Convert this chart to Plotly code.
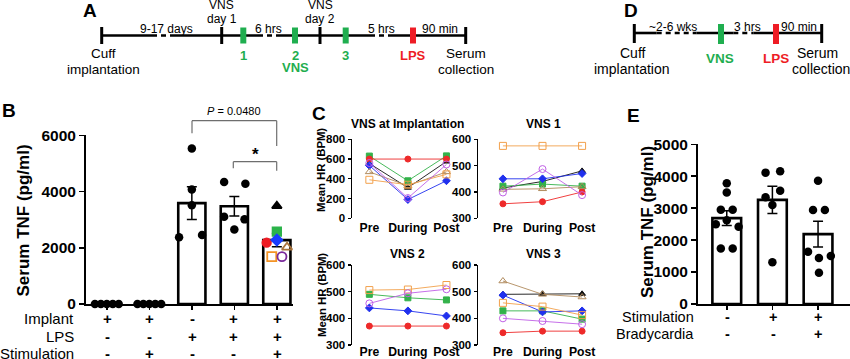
import numpy as np
import plotly.graph_objects as go

W, H = 850, 359
FONT = "Liberation Sans"


def X(p):
    return p / W


def Y(p):
    return 1 - p / H

# ---------------- Panel B data ----------------
b_implant = ["+", "+", "-", "+", "+"]
b_lps = ["-", "-", "+", "+", "+"]
b_stim = ["-", "+", "-", "-", "+"]
b_g1 = [0, 0, 0, 0, 0]
b_g2 = [0, 0, 0, 0, 0]
b_g3 = [5530, 4070, 3510, 2370, 2450]
b_g4 = [4340, 4280, 3100, 3010, 2650]
b_g5_names = ["black", "green", "red", "blue", "brown", "orange", "purple"]
b_g5 = [3485, 2572, 2180, 2276, 2017, 1683, 1683]
# horizontal scatter offsets (category units)
b_jit1 = [-0.28, -0.14, 0.0, 0.14, 0.28]
b_jit3 = [0.0, 0.0, 0.0, -0.3, 0.24]
b_jit4 = [-0.24, 0.26, -0.24, 0.24, 0.0]
b_jit5 = [0.0, 0.0, -0.24, 0.0, 0.24, -0.12, 0.12]

# ---------------- Panel C data ----------------
c_cats = ["Pre", "During", "Post"]
c_series = ["black", "green", "red", "blue", "brown", "orange", "purple"]
c_imp = {
    "black": [555, 310, 575], "green": [630, 380, 632], "red": [600, 600, 600],
    "blue": [535, 190, 380], "brown": [470, 330, 470], "orange": [390, 340, 445],
    "purple": [560, 205, 545],
}
c_vns1 = {
    "black": [415, 440, 480], "green": [422, 430, 422], "red": [355, 363, 400],
    "blue": [450, 450, 470], "brown": [410, 412, 420], "orange": [575, 575, 575],
    "purple": [398, 487, 388],
}
c_vns2 = {
    "green": [490, 477, 469], "red": [371, 371, 371],
    "blue": [439, 428, 409], "orange": [506, 508, 525], "purple": [456, 494, 509],
}
c_vns3 = {
    "black": [490, 492, 492], "green": [428, 428, 397], "red": [346, 352, 352],
    "blue": [487, 424, 428], "brown": [540, 490, 480], "orange": [458, 444, 412],
    "purple": [400, 390, 378],
}

# ---------------- Panel E data ----------------
e_stim = ["-", "+", "+"]
e_brady = ["-", "-", "+"]
e_g1 = [3780, 3490, 2950, 2950, 2500, 2620, 2420, 1740, 1740]
e_g2 = [4113, 4155, 3340, 3549, 3100, 1305]
e_g3 = [3862, 2944, 2944, 1637, 1503, 1440, 980]
e_jit1 = [0.0, 0.0, -0.13, 0.13, -0.24, 0.0, 0.26, -0.13, 0.13]
e_jit2 = [-0.15, 0.17, -0.15, 0.17, 0.0, 0.0]
e_jit3 = [0.0, -0.11, 0.15, -0.22, 0.28, 0.02, 0.02]

# ---------------- styles ----------------
colB = {"black": "#000000", "green": "#2bb34a", "red": "#ee1c25", "blue": "#1a3cff",
        "brown": "#a8733c", "orange": "#f39324", "purple": "#7a2a9c"}
colC = {"black": "#111111", "green": "#33b24a", "red": "#ee2a2a", "blue": "#2030ee",
        "brown": "#b08a5c", "orange": "#f2a04c", "purple": "#c060e6"}
symB = {"black": "triangle-up", "green": "square", "red": "circle", "blue": "diamond",
        "brown": "triangle-up-open", "orange": "square-open", "purple": "circle-open"}
GREEN = "#1fae4f"
RED = "#ee1c25"

fig = go.Figure()


def sem(v):
    v = np.asarray(v, dtype=float)
    if np.all(v == 0):
        return 0.0
    return float(np.std(v, ddof=1) / np.sqrt(len(v)))

# ---------------- Panel B ----------------
b_all = [b_g1, b_g2, b_g3, b_g4, b_g5]
fig.add_trace(go.Bar(
    x=list(range(5)), y=[float(np.mean(v)) for v in b_all], width=0.64,
    marker=dict(color="white", line=dict(color="black", width=2.6)),
    error_y=dict(type="data", array=[sem(v) for v in b_all], color="black",
                 thickness=1.5, width=5),
    xaxis="x", yaxis="y", hoverinfo="skip"))
for gi, (vals, jit) in enumerate([(b_g1, b_jit1), (b_g2, b_jit1), (b_g3, b_jit3), (b_g4, b_jit4)]):
    fig.add_trace(go.Scatter(
        x=[gi + j for j in jit], y=vals, mode="markers", cliponaxis=False,
        marker=dict(color="black", size=8.5), xaxis="x", yaxis="y", hoverinfo="skip"))
for name, v, j in zip(b_g5_names, b_g5, b_jit5):
    open_ = symB[name].endswith("open")
    fig.add_trace(go.Scatter(
        x=[4 + j], y=[v], mode="markers", cliponaxis=False,
        marker=dict(color=colB[name], size=8.5 if not open_ else 9, symbol=symB[name],
                    line=dict(width=1.8, color=colB[name])),
        xaxis="x", yaxis="y", hoverinfo="skip"))

# ---------------- Panel C ----------------
for ax, data in zip(["2", "3", "4", "5"], [c_imp, c_vns1, c_vns2, c_vns3]):
    for name in c_series:
        if name not in data:
            continue
        open_ = symB[name].endswith("open")
        fig.add_trace(go.Scatter(
            x=[0, 1, 2], y=data[name], mode="lines+markers", cliponaxis=False,
            line=dict(color=colC[name], width=0.9),
            marker=dict(color=colC[name], size=6 if not open_ else 7, symbol=symB[name],
                        line=dict(width=1, color=colC[name])),
            xaxis="x" + ax, yaxis="y" + ax, hoverinfo="skip"))

# ---------------- Panel E ----------------
e_all = [e_g1, e_g2, e_g3]
fig.add_trace(go.Bar(
    x=[0, 1, 2], y=[float(np.mean(v)) for v in e_all], width=0.63,
    marker=dict(color="white", line=dict(color="black", width=2.6)),
    error_y=dict(type="data", array=[sem(v) for v in e_all], color="black",
                 thickness=1.5, width=5),
    xaxis="x6", yaxis="y6", hoverinfo="skip"))
for gi, (vals, jit) in enumerate([(e_g1, e_jit1), (e_g2, e_jit2), (e_g3, e_jit3)]):
    fig.add_trace(go.Scatter(
        x=[gi + j for j in jit], y=vals, mode="markers", cliponaxis=False,
        marker=dict(color="black", size=8.5), xaxis="x6", yaxis="y6", hoverinfo="skip"))

# ---------------- axes ----------------
bold15 = dict(family=FONT, size=15.5, color="black", weight="bold")
boldC = dict(family=FONT, size=12.2, color="black", weight="bold")


def xdom(a, b):
    return [X(a), X(b)]


def ydom(top, bottom):
    return [Y(bottom), Y(top)]


common_x = dict(showgrid=False, zeroline=False, fixedrange=True, automargin=False)
common_y = dict(showgrid=False, zeroline=False, fixedrange=True, showline=True, automargin=False,
                linecolor="black", ticks="outside", tickcolor="black")

layout = dict(
    xaxis=dict(domain=xdom(86, 293), range=[-0.49, 4.38], anchor="y", showline=True,
               linecolor="black", linewidth=2, ticks="outside", ticklen=4, tickwidth=1.5,
               tickcolor="black", tickvals=[0, 1, 2, 3, 4], showticklabels=False, **common_x),
    yaxis=dict(domain=ydom(135.3, 304), range=[0, 6000], anchor="x", linewidth=2,
               tickvals=[0, 2000, 4000, 6000], ticklen=5, tickwidth=1.5, tickfont=bold15,
               **common_y),
    xaxis6=dict(domain=xdom(698, 850), range=[-0.63, 2.7], anchor="y6", showline=True,
                linecolor="black", linewidth=2, ticks="outside", ticklen=4, tickwidth=1.5,
                tickcolor="black", tickvals=[0, 1, 2], showticklabels=False, **common_x),
    yaxis6=dict(domain=ydom(144.3, 304), range=[0, 5000], anchor="x6", linewidth=2,
                tickvals=[0, 1000, 2000, 3000, 4000, 5000], ticklen=5, tickwidth=1.5,
                tickfont=bold15, **common_y),
)
c_specs = {
    "2": (352, 458, 139.3, 218.3, [-0.45, 2.3], [0, 800], [0, 200, 400, 600, 800], 0),
    "3": (478, 590, 139.3, 218.3, [-0.63, 2.2], [300, 600], [300, 400, 500, 600], 0),
    "4": (352, 458, 265, 345, [-0.45, 2.3], [300, 600], [300, 400, 500, 600], -2),
    "5": (478, 590, 265, 345, [-0.63, 2.2], [300, 600], [300, 400, 500, 600], -2),
}
for k, (x0, x1, yt, yb, xr, yr, tv, so) in c_specs.items():
    layout["xaxis" + k] = dict(domain=xdom(x0, x1), range=xr, anchor="y" + k,
                               tickvals=[0, 1, 2], ticktext=c_cats, tickfont=boldC,
                               ticklabelstandoff=so,
                               showline=False, ticks="", **common_x)
    layout["yaxis" + k] = dict(domain=ydom(yt, yb), range=yr, anchor="x" + k,
                               tickvals=tv, ticklen=3, tickwidth=1.2, linewidth=1.5,
                               tickfont=dict(family=FONT, size=11.5, color="black", weight="bold"),
                               **common_y)

ann = []
shapes = []


def text(x, y, s, size=12.5, color="black", bold=False, xanchor="center", angle=0):
    ann.append(dict(x=X(x), y=Y(y), xref="paper", yref="paper", text=s, showarrow=False,
                    xanchor=xanchor, yanchor="middle", textangle=angle,
                    font=dict(family=FONT, size=size, color=color,
                              weight="bold" if bold else "normal")))


def line(x0, y0, x1, y1, color="black", width=2.6, dash=None):
    d = dict(type="line", xref="paper", yref="paper", x0=X(x0), y0=Y(y0), x1=X(x1), y1=Y(y1),
             line=dict(color=color, width=width))
    if dash:
        d["line"]["dash"] = dash
    shapes.append(d)


def rect(xc, yc, w, h, color):
    shapes.append(dict(type="rect", xref="paper", yref="paper", x0=X(xc - w / 2), x1=X(xc + w / 2),
                       y0=Y(yc + h / 2), y1=Y(yc - h / 2), fillcolor=color, line=dict(width=0)))

# ---------- Panel A timeline ----------
ly = 35.5
for a, b in [(101.7, 152), (175, 258), (280, 370), (388, 465.7)]:
    line(a, ly, b, ly)
for a, b in [(152, 175), (258, 280), (370, 388)]:
    line(a, ly, b, ly, dash="5px,4px")
for tx in [101.7, 221.7, 320, 465.7]:
    line(tx, 27, tx, 44, width=3)
for gx in [243.3, 295, 345.7]:
    rect(gx, ly, 6, 16, GREEN)
rect(413, ly, 6, 16, RED)
TOP = 12
BOT = 13.5
text(166, 29, "9-17 days", TOP)
text(268, 29, "6 hrs", TOP)
text(381, 29, "5 hrs", TOP)
text(440, 29, "90 min", TOP)
text(221.7, 5, "VNS", TOP)
text(221.7, 19, "day 1", TOP)
text(320, 5, "VNS", TOP)
text(320, 19, "day 2", TOP)
text(103, 53.5, "Cuff", BOT)
text(103, 69.5, "implantation", BOT)
text(243.3, 55, "1", 13, GREEN, True)
text(295, 55, "2", 13, GREEN, True)
text(295, 67.5, "VNS", 13, GREEN, True)
text(345.7, 55, "3", 13, GREEN, True)
text(413, 55, "LPS", 13, RED, True)
text(465.7, 53.5, "Serum", BOT)
text(465.7, 69.5, "collection", BOT)
text(89.5, 10.5, "A", 19, bold=True)

# ---------- Panel D timeline ----------
ly = 33
for a, b in [(634.3, 656.7), (696.7, 733.3), (753.3, 821.7)]:
    line(a, ly, b, ly)
for a, b in [(656.7, 696.7), (733.3, 753.3)]:
    line(a, ly, b, ly, dash="5px,4px")
for tx in [634.3, 821.7]:
    line(tx, 24, tx, 43, width=3)
rect(721, 34, 6, 20, GREEN)
rect(776, 34, 6, 20, RED)
text(673.3, 27.5, "~2-6 wks", TOP)
text(747.3, 27.5, "3 hrs", TOP)
text(799.3, 27.5, "90 min", TOP)
text(633, 53, "Cuff", 14)
text(632, 69.5, "implantation", 14)
text(720, 58.5, "VNS", 13.5, GREEN, True)
text(776, 58.5, "LPS", 13.5, RED, True)
text(817, 53, "Serum", 14)
text(821, 69.5, "collection", 14)
text(630.5, 10.5, "D", 19, bold=True)

# ---------- Panel B annotations ----------
text(9, 110, "B", 19, bold=True)
text(22.5, 221, "Serum TNF (pg/ml)", 17, bold=True, angle=-90)
b_xc = [107, 149, 192, 234, 277]
for lab, row, yy in [("Implant", b_implant, 318), ("LPS", b_lps, 336.5), ("Stimulation", b_stim, 353.5)]:
    text(76, yy, lab, 15, xanchor="right")
    for xc, s in zip(b_xc, row):
        text(xc, yy, s, 15, bold=True)
GRAY = "#6e6e6e"
line(192, 120.7, 276.7, 120.7, GRAY, 1.2)
line(192, 120.7, 192, 133.3, GRAY, 1.2)
line(276.7, 120.7, 276.7, 146, GRAY, 1.2)
ann.append(dict(x=X(233.5), y=Y(111.5), xref="paper", yref="paper", showarrow=False,
                xanchor="center", yanchor="middle",
                text="<i>P</i> = 0.0480", font=dict(family=FONT, size=11, color="black")))
line(233.3, 161.7, 276.7, 161.7, GRAY, 1.2)
line(233.3, 161.7, 233.3, 168.3, GRAY, 1.2)
line(276.7, 161.7, 276.7, 170.7, GRAY, 1.2)
text(255, 155, "*", 17, bold=True)

# ---------- Panel C annotations ----------
text(318.5, 113, "C", 19, bold=True)
text(407, 124, "VNS at Implantation", 12, bold=True)
text(543, 124, "VNS 1", 12, bold=True)
text(407, 254, "VNS 2", 12, bold=True)
text(543, 253.5, "VNS 3", 12, bold=True)
text(321.5, 170.5, "Mean HR (BPM)", 11.3, bold=True, angle=-90)
text(321.5, 295.5, "Mean HR (BPM)", 11.3, bold=True, angle=-90)

# ---------- Panel E annotations ----------
text(633, 115, "E", 19, bold=True)
text(647, 222, "Serum TNF (pg/ml)", 17, bold=True, angle=-90)
e_xc = [727, 773, 818]
for lab, row, yy in [("Stimulation", e_stim, 316.5), ("Bradycardia", e_brady, 333.5)]:
    text(696, yy, lab, 14.5, xanchor="right")
    for xc, s in zip(e_xc, row):
        text(xc, yy, s, 14.5, bold=True)

fig.update_layout(
    width=W, height=H, margin=dict(l=0, r=0, t=0, b=0, pad=0, autoexpand=False), autosize=False,
    paper_bgcolor="white", plot_bgcolor="white", showlegend=False, hovermode=False,
    font=dict(family=FONT, color="black"), annotations=ann, shapes=shapes, **layout)

fig.write_html(
    "out.html",
    config={"displayModeBar": False, "staticPlot": True},
    post_script="document.body.style.margin='0';document.body.style.overflow='hidden';"
                "document.documentElement.style.overflow='hidden';",
)
